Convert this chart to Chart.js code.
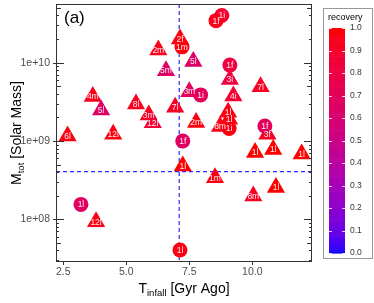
<!DOCTYPE html>
<html>
<head>
<meta charset="utf-8">
<script src="https://cdn.jsdelivr.net/npm/chart.js@4/dist/chart.umd.min.js"></script>
<style>
  body { margin: 0; background: #fff; }
  canvas { display: block; }
</style>
</head>
<body>
<canvas id="chart" width="374" height="303"></canvas>
<script>
// Datos: triángulos
const triX = [2.67, 3.67, 4.0, 4.48, 3.80, 5.385, 5.89, 6.05, 6.27, 6.575, 6.94, 7.13, 7.24, 7.66, 7.5, 7.77, 8.52, 8.72, 9.04, 9.08, 9.11, 9.25, 10.04, 10.11, 10.33, 10.6, 10.83, 10.94, 11.96];
const triY = [1.16e9, 3.68e9, 2.49e9, 1.22e9, 9.3e7, 2.97e9, 2.15e9, 1.71e9, 1.45e10, 7.9e9, 2.69e9, 2.0e10, 4.8e8, 1.03e10, 4.26e9, 1.72e9, 3.4e8, 1.53e9, 2.33e9, 1.89e9, 6.1e9, 3.76e9, 1.99e8, 7.1e8, 4.93e9, 1.22e9, 7.8e8, 2.54e8, 6.8e8];
const triLabel = ['6l', '4m', '5l', '12l', '12l', '8l', '3m', '12l', '2m', '5m', '7l', '2f', '1l', '5l', '3m', '2m', '1m', '8m', '1l', '1l', '3i', '4i', '8m', '1l', '7l', '3f', '1l', '1l', '1l'];
const triRecovery = [0.97, 0.95, 0.66, 0.97, 0.97, 0.93, 0.93, 0.85, 0.95, 0.66, 0.92, 0.97, 1.0, 0.66, 0.7, 0.98, 0.98, 0.95, 0.97, 0.97, 0.82, 0.88, 0.92, 1.0, 0.92, 0.92, 1.0, 1.0, 1.0];

// Datos: círculos
const circX = [7.21, 8.79, 8.56, 9.11, 7.95, 7.24, 3.2, 7.13, 9.08, 10.5];
const circY = [1.59e10, 4.0e10, 3.43e10, 9.3e9, 3.87e9, 1.0e9, 1.55e8, 4.05e7, 1.44e9, 1.55e9];
const circLabel = ['1m', '1i', '1f', '1f', '1i', '1f', '1l', '1l', '1i', '1f'];
const circRecovery = [0.98, 0.88, 0.95, 0.82, 0.7, 0.68, 0.68, 0.97, 0.97, 0.7];

// Ejes y líneas de referencia
const xTicks = [2.5, 5.0, 7.5, 10.0];
const yTicks = [1e8, 1e9, 1e10];
const yTickLabels = ['1e+08', '1e+09', '1e+10'];
const legendTicks = [0.0, 0.1, 0.2, 0.3, 0.4, 0.5, 0.6, 0.7, 0.8, 0.9, 1.0];
const vLine = 7.1;
const hLine = 4.07e8;

const FONT = '"Liberation Sans", Arial, sans-serif';

// Gradiente azul -> rojo en espacio Lab (como ggplot)
function toLin(c) { c /= 255; return c <= 0.04045 ? c / 12.92 : Math.pow((c + 0.055) / 1.055, 2.4); }
function toSrgb(c) { c = c <= 0.0031308 ? 12.92 * c : 1.055 * Math.pow(c, 1 / 2.4) - 0.055; return Math.round(Math.max(0, Math.min(1, c)) * 255); }
function rgbToLab([r, g, b]) {
    r = toLin(r); g = toLin(g); b = toLin(b);
    const X = (0.4124 * r + 0.3576 * g + 0.1805 * b) / 0.95047;
    const Y = 0.2126 * r + 0.7152 * g + 0.0722 * b;
    const Z = (0.0193 * r + 0.1192 * g + 0.9505 * b) / 1.08883;
    const f = t => t > 0.008856 ? Math.cbrt(t) : 7.787 * t + 16 / 116;
    const fx = f(X), fy = f(Y), fz = f(Z);
    return [116 * fy - 16, 500 * (fx - fy), 200 * (fy - fz)];
}
function labToRgb([L, a, b]) {
    const fy = (L + 16) / 116, fx = fy + a / 500, fz = fy - b / 200;
    const fi = t => t > 0.206893 ? t * t * t : (t - 16 / 116) / 7.787;
    const X = fi(fx) * 0.95047, Y = fi(fy), Z = fi(fz) * 1.08883;
    const r = 3.2406 * X - 1.5372 * Y - 0.4986 * Z;
    const g = -0.9689 * X + 1.8758 * Y + 0.0415 * Z;
    const bb = 0.0557 * X - 0.2040 * Y + 1.0570 * Z;
    return [toSrgb(r), toSrgb(g), toSrgb(bb)];
}
const labLow = rgbToLab([0, 0, 255]);
const labHigh = rgbToLab([255, 0, 0]);
function recoveryColor(v) {
    const lab = labLow.map((l, i) => l + (labHigh[i] - l) * v);
    const [r, g, b] = labToRgb(lab);
    return `rgb(${r},${g},${b})`;
}

const triData = triX.map((x, i) => ({ x, y: triY[i], label: triLabel[i] }));
const circData = circX.map((x, i) => ({ x, y: circY[i], label: circLabel[i] }));

// Plugin: marco, marcas log, líneas, etiquetas, títulos y barra de color
const extrasPlugin = {
    id: 'extras',
    beforeDatasetsDraw(chart) {
        const { ctx, chartArea: a, scales: { x, y } } = chart;
        ctx.save();
        ctx.strokeStyle = '#2b2bff';
        ctx.lineWidth = 1.2;
        ctx.setLineDash([4, 3]);
        const px = x.getPixelForValue(vLine);
        const py = y.getPixelForValue(hLine);
        ctx.beginPath();
        ctx.moveTo(px, a.top); ctx.lineTo(px, a.bottom);
        ctx.moveTo(a.left, py); ctx.lineTo(a.right, py);
        ctx.stroke();
        ctx.restore();
    },
    afterDatasetsDraw(chart) {
        const { ctx, chartArea: a, scales: { x, y } } = chart;
        ctx.save();
        // etiquetas de puntos
        ctx.fillStyle = 'rgba(255,255,255,0.92)';
        ctx.font = `8.5px ${FONT}`;
        ctx.textAlign = 'center';
        ctx.textBaseline = 'middle';
        [triData, circData].forEach(arr => arr.forEach(p => {
            ctx.fillText(p.label, x.getPixelForValue(p.x), y.getPixelForValue(p.y) + 0.5);
        }));

        // marco
        ctx.strokeStyle = '#333333';
        ctx.lineWidth = 1;
        ctx.strokeRect(a.left + 0.5, a.top + 0.5, a.right - a.left - 1, a.bottom - a.top - 1);

        // marcas logarítmicas a ambos lados
        ctx.beginPath();
        for (let d = 7; d <= 10; d++) {
            for (let m = 1; m <= 9; m++) {
                const v = m * Math.pow(10, d);
                if (v < y.min || v > y.max) continue;
                const py = Math.round(y.getPixelForValue(v)) + 0.5;
                const len = m === 1 ? 8 : (m === 5 ? 5 : 3);
                ctx.moveTo(a.left, py); ctx.lineTo(a.left + len, py);
                ctx.moveTo(a.right, py); ctx.lineTo(a.right - len, py);
                if (m === 1) { ctx.moveTo(a.left - 3, py); ctx.lineTo(a.left, py); }
            }
        }
        xTicks.forEach(t => {
            const px = Math.round(x.getPixelForValue(t)) + 0.5;
            ctx.moveTo(px, a.bottom); ctx.lineTo(px, a.bottom + 3);
        });
        ctx.stroke();

        // etiquetas del eje y
        ctx.fillStyle = '#4d4d4d';
        ctx.font = `10.5px ${FONT}`;
        ctx.textAlign = 'right';
        yTicks.forEach((t, i) => ctx.fillText(yTickLabels[i], a.left - 6, y.getPixelForValue(t)));

        // (a)
        ctx.fillStyle = '#000';
        ctx.font = `17px ${FONT}`;
        ctx.textAlign = 'left';
        ctx.textBaseline = 'alphabetic';
        ctx.fillText('(a)', a.left + 8, 23);

        // títulos de ejes con subíndice
        function drawSub(parts, cx, cy) {
            let total = 0;
            parts.forEach(p => { ctx.font = `${p.size}px ${FONT}`; p.w = ctx.measureText(p.t).width; total += p.w; });
            let cur = cx - total / 2;
            parts.forEach(p => {
                ctx.font = `${p.size}px ${FONT}`;
                ctx.fillText(p.t, cur, cy + (p.dy || 0));
                cur += p.w;
            });
        }
        ctx.fillStyle = '#000';
        drawSub([{ t: 'T', size: 14 }, { t: 'infall', size: 9.5, dy: 3 }, { t: ' [Gyr Ago]', size: 14 }], (a.left + a.right) / 2, 293);
        ctx.save();
        ctx.translate(21, (a.top + a.bottom) / 2);
        ctx.rotate(-Math.PI / 2);
        drawSub([{ t: 'M', size: 14 }, { t: 'tot', size: 9.5, dy: 3 }, { t: ' [Solar Mass]', size: 14 }], 0, 0);
        ctx.restore();

        // leyenda: barra de color
        const bx = 329, bw = 16, bTop = 28, bBot = 253;
        ctx.strokeStyle = '#999999';
        ctx.lineWidth = 1;
        ctx.strokeRect(323.5, 8.5, 49, 250);
        ctx.fillStyle = '#000';
        ctx.font = `9px ${FONT}`;
        ctx.textAlign = 'left';
        ctx.textBaseline = 'middle';
        ctx.fillText('recovery', 328, 18);
        const steps = 120;
        for (let i = 0; i < steps; i++) {
            const v0 = i / steps;
            const y0 = bBot - (bBot - bTop) * (i + 1) / steps;
            ctx.fillStyle = recoveryColor(v0 + 0.5 / steps);
            ctx.fillRect(bx, y0, bw, (bBot - bTop) / steps + 0.6);
        }
        ctx.strokeStyle = 'rgba(255,255,255,0.8)';
        ctx.beginPath();
        legendTicks.forEach(t => {
            const ty = Math.round(bBot - (bBot - bTop) * t) + 0.5;
            ctx.moveTo(bx, ty); ctx.lineTo(bx + 3, ty);
            ctx.moveTo(bx + bw - 3, ty); ctx.lineTo(bx + bw, ty);
        });
        ctx.stroke();
        ctx.fillStyle = '#333333';
        ctx.font = `8.5px ${FONT}`;
        legendTicks.forEach(t => {
            ctx.fillText(t.toFixed(1), 350, bBot - (bBot - bTop) * t);
        });
        ctx.restore();
    }
};

const chart = new Chart(document.getElementById('chart').getContext('2d'), {
    type: 'scatter',
    data: {
        datasets: [
            {
                data: circData,
                pointStyle: 'circle',
                pointRadius: 7.5,
                pointBorderWidth: 0,
                pointBackgroundColor: circRecovery.map(recoveryColor),
                order: 0
            },
            {
                data: triData,
                pointStyle: 'triangle',
                pointRadius: 10.5,
                pointBorderWidth: 0,
                pointBackgroundColor: triRecovery.map(recoveryColor),
                order: 1
            }
        ]
    },
    options: {
        responsive: false,
        animation: false,
        layout: { autoPadding: false, padding: { top: 4, right: 62, left: 0, bottom: 0 } },
        plugins: {
            legend: { display: false },
            tooltip: { enabled: false }
        },
        scales: {
            x: {
                type: 'linear',
                bounds: 'data',
                min: 2.21,
                max: 12.37,
                grid: { display: false, drawTicks: false },
                border: { display: false },
                afterBuildTicks: s => { s.ticks = xTicks.map(v => ({ value: v })); },
                afterFit: s => { s.height = 41; },
                ticks: {
                    padding: 4,
                    color: '#4d4d4d',
                    font: { family: FONT, size: 10.5 },
                    callback: v => Number(v).toFixed(1)
                }
            },
            y: {
                type: 'logarithmic',
                bounds: 'data',
                min: 2.85e7,
                max: 5.6e10,
                grid: { display: false, drawTicks: false },
                border: { display: false },
                afterBuildTicks: s => { s.ticks = yTicks.map(v => ({ value: v })); },
                afterFit: s => { s.width = 56; },
                ticks: { display: false }
            }
        }
    },
    plugins: [extrasPlugin]
});
</script>
</body>
</html>
